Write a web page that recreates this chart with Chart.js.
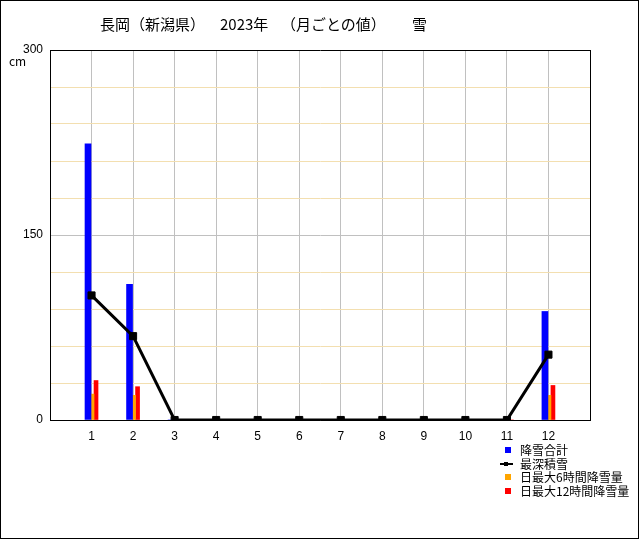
<!DOCTYPE html>
<html lang="ja">
<head>
<meta charset="utf-8">
<title>長岡 2023年 雪</title>
<script src="https://cdn.jsdelivr.net/npm/chart.js@4.4.1/dist/chart.umd.min.js"></script>
<style>
    body { margin: 0; background: #fff; }
    #frame { position: absolute; left: 0; top: 0; width: 637px; height: 537px; border: 1px solid #000; }
    #chartBox { position: absolute; left: 0; top: 0; width: 640px; height: 540px; }
    .jp { font-family: "Noto Sans CJK JP", sans-serif; color: #000; white-space: pre; }
    #title span { position: absolute; top: 16px; font-size: 15px; line-height: 15px; }
    #unit { position: absolute; left: 9px; top: 55px; font-size: 12px; line-height: 12px; }
    #legend { position: absolute; left: 500px; top: 443px; font-size: 12px; }
    #legend .item { position: relative; height: 13.7px; line-height: 13.7px; padding-left: 20px; }
    #legend .swatch { position: absolute; left: 5px; top: 4px; width: 6px; height: 6px; }
    #legend .line { position: absolute; left: 0; top: 6px; width: 13px; height: 2px; background: #000; }
    #legend .dot { position: absolute; left: 4px; top: 5px; width: 4px; height: 4px; background: #000; }
</style>
</head>
<body>
<div id="frame"></div>
<div id="chartBox"><canvas id="snowChart" width="640" height="540"></canvas></div>
<div id="title" class="jp">
    <span style="left:100px">長岡（新潟県）</span>
    <span style="left:220px">2023年</span>
    <span style="left:281px">（月ごとの値）</span>
    <span style="left:412px">雪</span>
</div>
<div id="unit" class="jp">cm</div>
<div id="legend" class="jp"></div>
<script>
// 月ごとの値 (cm)
const months = [1, 2, 3, 4, 5, 6, 7, 8, 9, 10, 11, 12];
const snowTotal = [224, 110, 0, 0, 0, 0, 0, 0, 0, 0, 0, 88];
const deepestSnow = [101, 68, 0, 0, 0, 0, 0, 0, 0, 0, 0, 53];
const max6h = [21, 20, 0, 0, 0, 0, 0, 0, 0, 0, 0, 20];
const max12h = [32, 27, 0, 0, 0, 0, 0, 0, 0, 0, 0, 28];
const yTickLabels = [0, 150, 300];

Chart.defaults.font.family = '"Liberation Sans", sans-serif';
Chart.defaults.font.size = 12;
Chart.defaults.color = '#000';

// hidden x axes shifted a little so the three bars sit side by side
function shiftedAxis(shift) {
    return { type: 'linear', display: false, offset: false, min: -shift, max: 13 - shift };
}

const ctx = document.getElementById('snowChart').getContext('2d');
const snowChart = new Chart(ctx, {
    data: {
        labels: months,
        datasets: [
            {
                type: 'line',
                label: '最深積雪',
                data: deepestSnow,
                borderColor: '#000',
                backgroundColor: '#000',
                borderWidth: 3,
                pointStyle: 'rect',
                pointRadius: 5,
                pointBorderWidth: 1,
                tension: 0,
                order: 0
            },
            {
                type: 'bar',
                label: '降雪合計',
                data: snowTotal,
                backgroundColor: '#0000ff',
                xAxisID: 'xTotal',
                grouped: false,
                barThickness: 6,
                order: 1
            },
            {
                type: 'bar',
                label: '日最大6時間降雪量',
                data: max6h,
                backgroundColor: '#ffa500',
                xAxisID: 'x6h',
                grouped: false,
                barThickness: 3,
                order: 1
            },
            {
                type: 'bar',
                label: '日最大12時間降雪量',
                data: max12h,
                backgroundColor: '#ff0000',
                xAxisID: 'x12h',
                grouped: false,
                barThickness: 4,
                order: 1
            }
        ]
    },
    options: {
        responsive: false,
        animation: false,
        layout: { padding: { top: 50, right: 50, left: 0, bottom: 0 } },
        plugins: {
            legend: { display: false },
            tooltip: { enabled: false }
        },
        scales: {
            x: {
                type: 'linear',
                offset: false,
                min: 0,
                max: 13,
                afterFit: (scale) => { scale.height = 120; },
                ticks: {
                    stepSize: 1,
                    autoSkip: false,
                    maxRotation: 0,
                    padding: 9,
                    callback: (v) => months.includes(v) ? String(v) : ''
                },
                grid: {
                    drawTicks: false,
                    color: (c) => (c.tick.value === 0 || c.tick.value === 13) ? '#000' : '#c0c0c0'
                },
                border: { color: '#000' }
            },
            xTotal: shiftedAxis(-0.085),
            x6h: shiftedAxis(0.024),
            x12h: shiftedAxis(0.108),
            y: {
                min: 0,
                max: 300,
                afterFit: (scale) => { scale.width = 50; },
                ticks: {
                    stepSize: 30,
                    autoSkip: false,
                    padding: 7,
                    callback: (v) => yTickLabels.includes(v) ? String(v) : ''
                },
                grid: {
                    drawTicks: false,
                    color: (c) => {
                        const v = c.tick.value;
                        if (v === 0 || v === 300) return '#000';
                        return v === 150 ? '#c0c0c0' : '#f3dfb0';
                    }
                },
                border: { color: '#000' }
            }
        }
    }
});

// Legend in the same order as the reference
const legendItems = [
    { label: '降雪合計', color: '#0000ff' },
    { label: '最深積雪', line: true },
    { label: '日最大6時間降雪量', color: '#ffa500' },
    { label: '日最大12時間降雪量', color: '#ff0000' }
];
const legend = document.getElementById('legend');
legendItems.forEach(item => {
    const row = document.createElement('div');
    row.className = 'item';
    row.innerHTML = item.line
        ? '<span class="line"></span><span class="dot"></span>'
        : `<span class="swatch" style="background:${item.color}"></span>`;
    row.appendChild(document.createTextNode(item.label));
    legend.appendChild(row);
});
</script>
</body>
</html>
